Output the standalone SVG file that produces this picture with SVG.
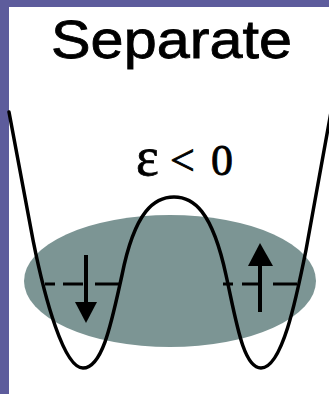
<svg xmlns="http://www.w3.org/2000/svg" width="329" height="394" viewBox="0 0 329 394">
  <style>
    .curve { fill: none; stroke: #000; stroke-width: 3.5; stroke-linejoin: round; stroke-linecap: round; }
    .dash { stroke: #000; stroke-width: 3; }
    .shaft { stroke: #000; stroke-width: 4; }
    .head { fill: #000; }
  </style>
  <rect x="0" y="0" width="329" height="394" fill="#5d5c9c"/>
  <rect x="9" y="7" width="320" height="387" fill="#ffffff"/>
  <g id="title">
    <text x="51" y="58" font-family="Liberation Sans, Arial, sans-serif" font-size="53" textLength="241" lengthAdjust="spacingAndGlyphs" fill="#000" stroke="#000" stroke-width="0.8">Separate</text>
  </g>
  <g id="label">
    <text y="175" font-family="Liberation Serif, Times New Roman, serif" font-size="44" fill="#000" stroke="#000" stroke-width="0.8"><tspan x="136" font-size="54">ε</tspan><tspan x="170">&lt;</tspan><tspan x="211">0</tspan></text>
  </g>
  <g id="cloud">
    <ellipse cx="170" cy="281" rx="146" ry="66" fill="#7c9594"/>
  </g>
  <g id="potential">
    <path class="curve" d="M 9,112 L 33,240 C 45,300 64,368 83,368 C 103,368 112,320 122,275 C 135,210 155,197 174,197 C 193,197 212,210 226,275 C 236,320 243,368 261,368 C 282,368 296,300 306,250 L 331,112"/>
  </g>
  <g id="levels">
    <line class="dash" x1="45" y1="284" x2="55" y2="284"/>
    <line class="dash" x1="63" y1="284" x2="83" y2="284"/>
    <line class="dash" x1="95" y1="284" x2="120" y2="284"/>
    <line class="dash" x1="223" y1="284" x2="233" y2="284"/>
    <line class="dash" x1="242" y1="284" x2="262" y2="284"/>
    <line class="dash" x1="273" y1="284" x2="297" y2="284"/>
  </g>
  <g id="spin-down">
    <line class="shaft" x1="86" y1="255" x2="86" y2="305"/>
    <polygon class="head" points="75,302 97,302 86,323"/>
  </g>
  <g id="spin-up">
    <line class="shaft" x1="260" y1="262" x2="260" y2="312"/>
    <polygon class="head" points="248,266 273,266 260,243"/>
  </g>
</svg>
